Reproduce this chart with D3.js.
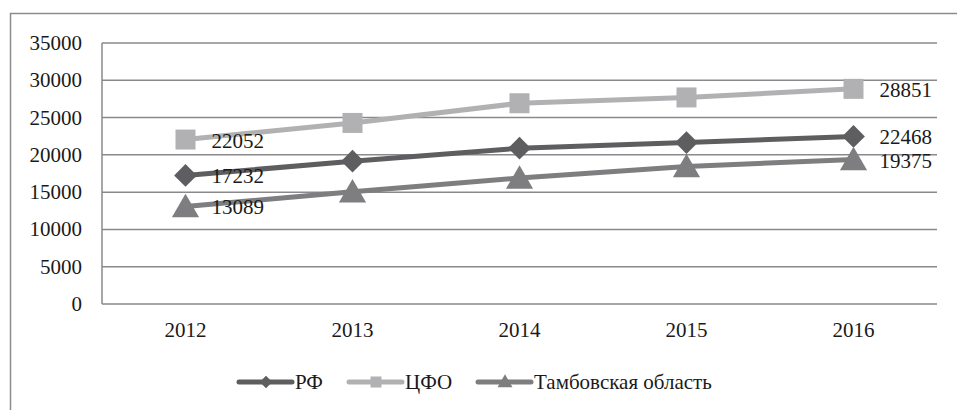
<!DOCTYPE html>
<html>
<head>
<meta charset="utf-8">
<script src="https://cdn.jsdelivr.net/npm/d3@7"></script>
<style>
  body { margin: 0; background: #fff; }
  text { font-family: "Liberation Serif", "Times New Roman", serif; fill: #1a1a1a; }
</style>
</head>
<body>
<div id="plot" style="width:957px;height:410px"></div>
<script>
var years = ["2012", "2013", "2014", "2015", "2016"];
var rf = [17232, 19150, 20900, 21650, 22468];
var cfo = [22052, 24280, 26920, 27700, 28851];
var tambov = [13089, 15050, 16900, 18450, 19375];
var yTicks = [0, 5000, 10000, 15000, 20000, 25000, 30000, 35000];

var series = [
    { name: "РФ", values: rf, color: "#5e5e60", shape: "diamond", labelIdx: [0, 4] },
    { name: "ЦФО", values: cfo, color: "#b1b1b3", shape: "square", labelIdx: [0, 4] },
    { name: "Тамбовская область", values: tambov, color: "#7e7e80", shape: "triangle", labelIdx: [0, 4] }
];

var svg = d3.select("#plot")
            .append("svg")
            .attr("width", 957)
            .attr("height", 410);

// outer frame (right/bottom fall outside the picture)
svg.append("rect")
    .attr("x", 10.5).attr("y", 13.5)
    .attr("width", 1000).attr("height", 500)
    .style("fill", "none")
    .style("stroke", "#8c8c8c")
    .style("stroke-width", 1.5);

var m = { left: 102, right: 937, top: 43, bottom: 304 };

var x = d3.scaleBand().domain(years).range([m.left, m.right]);
var y = d3.scaleLinear().domain([0, 35000]).range([m.bottom, m.top]);

// grid
svg.append("g").selectAll("line")
    .data(yTicks)
    .enter().append("line")
    .attr("x1", m.left).attr("x2", m.right)
    .attr("y1", function(d){ return y(d); })
    .attr("y2", function(d){ return y(d); })
    .style("stroke", "#8a8a8c")
    .style("stroke-width", 1.5);

svg.append("line")
    .attr("x1", m.left).attr("x2", m.left)
    .attr("y1", m.top).attr("y2", m.bottom)
    .style("stroke", "#8a8a8c")
    .style("stroke-width", 1.5);

// y labels
svg.append("g").selectAll("text")
    .data(yTicks)
    .enter().append("text")
    .attr("x", 82)
    .attr("y", function(d){ return y(d) + 7; })
    .attr("text-anchor", "end")
    .style("font-size", "21px")
    .text(function(d){ return d; });

// x labels
svg.append("g").selectAll("text")
    .data(years)
    .enter().append("text")
    .attr("x", function(d){ return x(d) + x.bandwidth() / 2; })
    .attr("y", 337)
    .attr("text-anchor", "middle")
    .style("font-size", "21px")
    .text(function(d){ return d; });

function symbolFor(shape, big) {
    var s = big ? 1 : 0.55;
    if (shape == "diamond") return d3.symbol().type(d3.symbolDiamond2).size(330 * s * s)();
    if (shape == "square") return d3.symbol().type(d3.symbolSquare).size(400 * s * s)();
    return d3.symbol().type(d3.symbolTriangle).size(320 * s * s)();
}

var line = d3.line()
    .x(function(d, i){ return x(years[i]) + x.bandwidth() / 2; })
    .y(function(d){ return y(d); });

series.forEach(function(s) {
    var g = svg.append("g");
    g.append("path")
        .datum(s.values)
        .attr("d", line)
        .style("fill", "none")
        .style("stroke", s.color)
        .style("stroke-width", 5);
    g.selectAll(".pt")
        .data(s.values)
        .enter().append("path")
        .attr("class", "pt")
        .attr("transform", function(d, i){
            var dy = s.shape == "triangle" ? 3 : 0;
            return "translate(" + (x(years[i]) + x.bandwidth() / 2) + "," + (y(d) + dy) + ")";
        })
        .attr("d", symbolFor(s.shape, true))
        .style("fill", s.color);
});

// value labels, to the right of the first and last points
series.forEach(function(s) {
    s.labelIdx.forEach(function(idx) {
        svg.append("text")
            .attr("x", x(years[idx]) + x.bandwidth() / 2 + 26)
            .attr("y", y(s.values[idx]) + 8)
            .style("font-size", "21px")
            .text(s.values[idx]);
    });
});

// legend
var legendX = [239, 349, 478];
series.forEach(function(s, i) {
    var g = svg.append("g").attr("transform", "translate(" + legendX[i] + ",382)");
    g.append("line")
        .attr("x1", 0).attr("x2", 53)
        .attr("y1", 0).attr("y2", 0)
        .style("stroke", s.color)
        .style("stroke-width", 5)
        .style("stroke-linecap", "round");
    g.append("path")
        .attr("transform", "translate(27," + (s.shape == "triangle" ? 1 : 0) + ")")
        .attr("d", symbolFor(s.shape, false))
        .style("fill", s.color);
    g.append("text")
        .attr("x", 56)
        .attr("y", 7)
        .style("font-size", "21px")
        .text(s.name);
});
</script>
</body>
</html>
